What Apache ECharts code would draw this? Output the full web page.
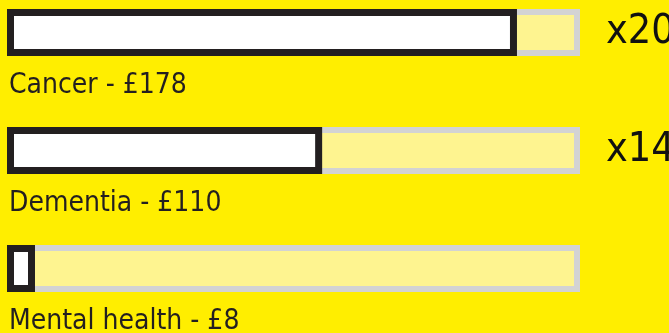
<!DOCTYPE html>
<html>
<head>
<meta charset="utf-8">
<script src="https://cdn.jsdelivr.net/npm/echarts@6/dist/echarts.min.js"></script>
<style>
  html, body { margin: 0; padding: 0; background: #ffee00; }
  #container { width: 669px; height: 333px; }
</style>
</head>
<body>
<div id="container"></div>
<script>
// spending per person, £
var categories = ['Cancer', 'Dementia', 'Mental health'];
var spend = [178, 110, 8];
var scaleMax = 200;
var multiples = ['x20', 'x14', ''];
var track = categories.map(function () { return scaleMax; });

var font = '"Liberation Sans Narrow", "DejaVu Sans Condensed", Roboto, sans-serif';

var dom = document.getElementById('container');
var myChart = echarts.init(dom);

var option = {
  backgroundColor: '#ffee00',
  animation: false,
  grid: {
    left: 7,
    right: 89,
    top: 32.5,
    bottom: 64.5
  },
  xAxis: {
    type: 'value',
    min: 0,
    max: scaleMax,
    show: false
  },
  yAxis: {
    type: 'category',
    data: categories,
    inverse: true,
    boundaryGap: false,
    show: false
  },
  series: [
    {
      // background track
      type: 'bar',
      data: track,
      barWidth: 47,
      barGap: '-100%',
      silent: true,
      itemStyle: {
        color: '#fef490',
        borderColor: '#d3d3d3',
        borderWidth: 6
      },
      label: {
        show: true,
        position: 'right',
        distance: 26,
        fontFamily: font,
        fontSize: 41,
        color: '#111',
        formatter: function (p) { return multiples[p.dataIndex]; }
      }
    },
    {
      type: 'bar',
      data: spend,
      barWidth: 47,
      barGap: '-100%',
      barMinHeight: 28,
      itemStyle: {
        color: '#ffffff',
        borderColor: '#231f20',
        borderWidth: 7
      },
      label: {
        show: true,
        position: [2, 77],
        align: 'left',
        verticalAlign: 'middle',
        fontFamily: font,
        fontSize: 28,
        color: '#231f20',
        formatter: function (p) { return p.name + ' - £' + p.value; }
      }
    }
  ]
};

if (option && typeof option === 'object') {
  myChart.setOption(option);
}
</script>
</body>
</html>
